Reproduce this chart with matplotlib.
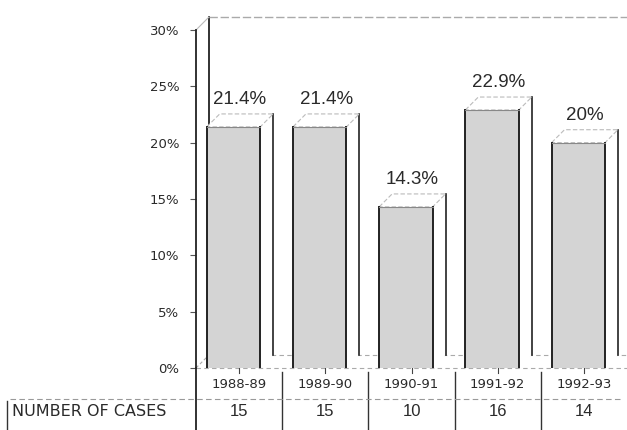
import matplotlib
matplotlib.use("Agg")
import matplotlib.pyplot as plt
from matplotlib.patches import Polygon
from matplotlib.transforms import blended_transform_factory

periods = ["1988-89", "1989-90", "1990-91", "1991-92", "1992-93"]
percent = [21.4, 21.4, 14.3, 22.9, 20.0]
labels = ["21.4%", "21.4%", "14.3%", "22.9%", "20%"]
cases = [15, 15, 10, 16, 14]
yticks = [0, 5, 10, 15, 20, 25, 30]
ytick_labels = ["0%", "5%", "10%", "15%", "20%", "25%", "30%"]

W, H = 627, 430
fig = plt.figure(figsize=(W / 100, H / 100), dpi=100)
ax = fig.add_axes([196 / W, 1 - 368 / H, 1 - 196 / W, (368 - 30) / H])
ax.set_xlim(-0.5, len(periods) - 0.5)
ax.set_ylim(0, 30)

txt = "#2a2a2a"
dx, dy = 0.15, 1.15  # depth offsets (x units, % units)
bw = 0.62

# back wall & floor
ax.plot([-0.5 + dx, -0.5 + dx], [dy, 30 + dy], color="#222", lw=1.3, clip_on=False)
ax.plot([-0.5 + dx, len(periods) - 0.5], [30 + dy, 30 + dy], color="#aaa", lw=1.0,
        ls=(0, (6, 2)), clip_on=False)
ax.plot([-0.5, -0.5 + dx], [30, 30 + dy], color="#bbb", lw=0.8, clip_on=False)
ax.plot([-0.5, -0.5 + dx], [0, dy], color="#aaa", lw=0.8, ls=(0, (3, 2)), clip_on=False)
ax.plot([-0.5 + dx, len(periods) - 0.5], [dy, dy], color="#aaa", lw=0.8,
        ls=(0, (4, 3)), clip_on=False)
ax.plot([-0.5, len(periods) - 0.5], [0, 0], color="#aaa", lw=0.8,
        ls=(0, (4, 3)), clip_on=False)

xs = [i - dx / 2 + 0.01 for i in range(len(periods))]
bars = ax.bar(xs, percent, width=bw, color="#d4d4d4", edgecolor="none", zorder=3)
for b, v, lab in zip(bars, percent, labels):
    x0 = b.get_x()
    x1 = x0 + b.get_width()
    # side face
    side = Polygon([[x1, 0], [x1 + dx, dy], [x1 + dx, v + dy], [x1, v]], closed=True,
                   facecolor="white", edgecolor="none", zorder=2)
    ax.add_patch(side)
    ax.plot([x1 + dx, x1 + dx], [dy, v + dy], color="#222", lw=1.2, zorder=4)
    # top face
    top = Polygon([[x0, v], [x0 + dx, v + dy], [x1 + dx, v + dy], [x1, v]], closed=True,
                  facecolor="white", edgecolor="#bbb", lw=0.8, ls=(0, (4, 2)), zorder=4)
    ax.add_patch(top)
    # front face edges
    ax.plot([x0, x0], [0, v], color="#222", lw=1.4, zorder=5)
    ax.plot([x1, x1], [0, v], color="#222", lw=1.4, zorder=5)
    ax.plot([x0, x1], [v, v], color="#888", lw=0.8, zorder=5)
    ax.text((x0 + x1 + dx) / 2, v + dy + 0.5, lab, ha="center", va="bottom",
            fontsize=13.5, color=txt, family="Liberation Sans")

for s in ["top", "right", "bottom"]:
    ax.spines[s].set_visible(False)
ax.spines["left"].set_linewidth(1.3)
ax.spines["left"].set_color("#222")
ax.set_yticks(yticks)
ax.set_yticklabels(ytick_labels, fontsize=9.5, color=txt, family="DejaVu Sans")
ax.tick_params(axis="y", length=4, width=0.8, color="#555", pad=8)
ax.set_xticks([])

# table below
tr = blended_transform_factory(ax.transData, ax.transAxes)
r1 = -(385 - 368) / 338
r2 = -(411 - 368) / 338
bot = -(430 - 368) / 338
for i, (p, c) in enumerate(zip(periods, cases)):
    ax.text(i, r1, p, transform=tr, ha="center", va="center", fontsize=9.5,
            color=txt, family="DejaVu Sans", clip_on=False)
    ax.text(i, r2, str(c), transform=tr, ha="center", va="center", fontsize=12,
            color=txt, family="Liberation Sans", clip_on=False)
    ax.plot([i, i], [0, -0.015], transform=tr, color="#444", lw=0.8, clip_on=False)
for i in range(len(periods) - 1):
    ax.plot([i + 0.5, i + 0.5], [-0.012, bot], transform=tr, color="#333", lw=1.0,
            clip_on=False)
ax.plot([-0.5, -0.5], [0, bot], transform=tr, color="#222", lw=1.3, clip_on=False)

fig.lines.append(plt.Line2D([10 / W, 620 / W], [1 - 399 / H, 1 - 399 / H],
                            transform=fig.transFigure, color="#999", lw=0.8,
                            ls=(0, (5, 3))))
fig.lines.append(plt.Line2D([7 / W, 7 / W], [1 - 401 / H, 0],
                            transform=fig.transFigure, color="#333", lw=1.0))
fig.text(12 / W, 1 - 411 / H, "NUMBER OF CASES", ha="left", va="center",
         fontsize=11.5, color=txt, family="DejaVu Sans")

fig.savefig("out.png", dpi=100)
